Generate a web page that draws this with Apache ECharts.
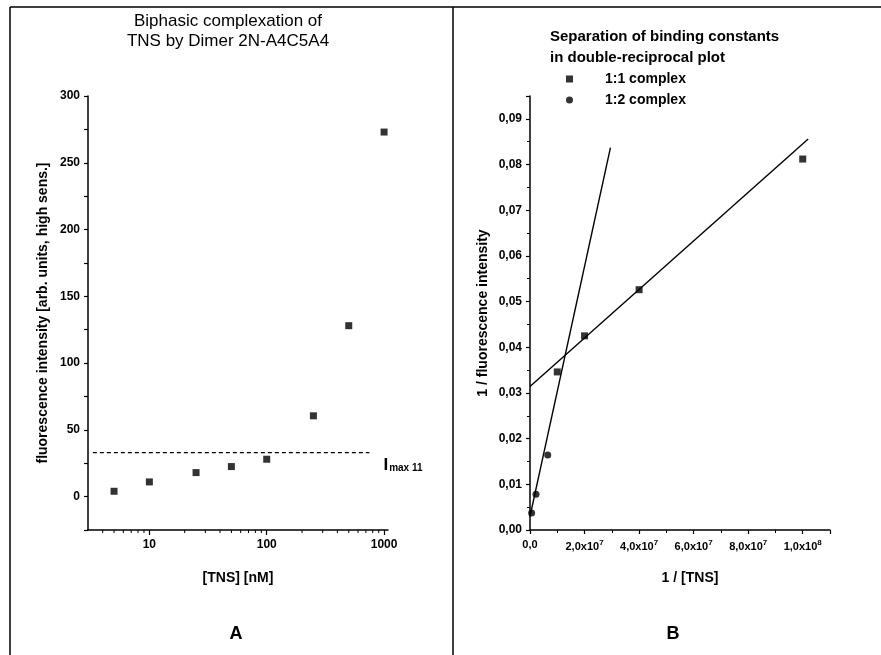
<!DOCTYPE html>
<html><head><meta charset="utf-8">
<script src="https://cdn.jsdelivr.net/npm/echarts@6/dist/echarts.min.js"></script>
<style>html,body{margin:0;padding:0;background:#fff}#c{width:881px;height:655px}</style>
</head><body><div id="c"></div>
<script>
// ---- Panel A data ----
const tnsConc = [5, 10, 25, 50, 100, 250, 500, 1000];           // nM
const fluorIntensity = [4, 11, 18, 22.5, 28, 60.5, 128, 273];
const imaxX = [3.3, 750];
const imaxY = [33, 33];
const logMinorTicks = [4,5,6,7,8,9,20,30,40,50,60,70,80,90,200,300,400,500,600,700,800,900];
const yMinA = -25;
// ---- Panel B data ----
const recip11X = [1.0e7, 2.0e7, 4.0e7, 1.0e8];
const recip11Y = [0.0346, 0.0425, 0.0526, 0.0812];
const recip12X = [0.6e6, 2.2e6, 6.5e6];
const recip12Y = [0.0037, 0.0078, 0.0164];
const fit11X = [0, 1.02e8];
const fit11Y = [0.0314, 0.0856];
const fit12X = [0, 2.95e7];
const fit12Y = [0.003, 0.0837];

const FF = 'Liberation Sans';
const zip = (a, b) => a.map((v, i) => [v, b[i]]);
const axisCommon = {
  axisLine: {onZero: false, lineStyle: {color: '#000', width: 1.5}},
  axisTick: {lineStyle: {color: '#000', width: 1.2}, length: 4},
  axisLabel: {color: '#000', fontFamily: FF, fontWeight: 'bold', fontSize: 12},
  splitLine: {show: false},
  nameTextStyle: {color: '#000', fontFamily: FF, fontWeight: 'bold', fontSize: 14}
};

const chart = echarts.init(document.getElementById('c'), null, {renderer: 'canvas'});
chart.setOption({
  backgroundColor: '#fff',
  animation: false,
  textStyle: {fontFamily: FF},
  grid: [
    {left: 88, top: 96, width: 300, height: 434},
    {left: 530, top: 96, width: 300, height: 434}
  ],
  xAxis: [
    Object.assign({}, axisCommon, {
      gridIndex: 0, type: 'log', logBase: 10, min: 3, max: 1080,
      name: '[TNS] [nM]', nameLocation: 'middle', nameGap: 41,
      axisTick: {lineStyle: {color: '#000', width: 1.2}, length: 5},
      axisLabel: Object.assign({}, axisCommon.axisLabel, {showMinLabel: false, showMaxLabel: false, margin: 9,
        formatter: v => String(Math.round(v))})
    }),
    Object.assign({}, axisCommon, {
      gridIndex: 1, type: 'value', min: 0, max: 1.1e8, interval: 2e7,
      name: '1 / [TNS]', nameLocation: 'middle', nameGap: 41,
      nameTextStyle: Object.assign({}, axisCommon.nameTextStyle, {padding: [0, 0, 0, 20]}),
      minorTick: {show: true, splitNumber: 2, length: 3, lineStyle: {color: '#000', width: 1}},
      axisLabel: Object.assign({}, axisCommon.axisLabel, {
        showMaxLabel: false, margin: 9, fontSize: 11,
        formatter: v => {
          if (v === 0) return '0,0';
          const e = Math.floor(Math.log10(v) + 1e-9);
          const m = v / Math.pow(10, e);
          return m.toFixed(1).replace('.', ',') + 'x10{sup|' + e + '}';
        },
        rich: {sup: {fontSize: 8, fontWeight: 'bold', fontFamily: FF, color: '#000', verticalAlign: 'top', padding: [0, 0, 7, 0]}}
      })
    })
  ],
  yAxis: [
    Object.assign({}, axisCommon, {
      gridIndex: 0, type: 'value', min: yMinA, max: 300, interval: 25,
      name: 'fluorescence intensity [arb. units, high sens.]', nameLocation: 'middle', nameGap: 38,
      axisLabel: Object.assign({}, axisCommon.axisLabel, {formatter: v => (v % 50 === 0 ? String(v) : ''), margin: 8})
    }),
    Object.assign({}, axisCommon, {
      gridIndex: 1, type: 'value', min: 0, max: 0.095, interval: 0.01,
      name: '1 / fluorescence intensity', nameLocation: 'middle', nameGap: 40,
      minorTick: {show: true, splitNumber: 2, length: 3, lineStyle: {color: '#000', width: 1}},
      axisLabel: Object.assign({}, axisCommon.axisLabel, {showMaxLabel: false, margin: 8,
        formatter: v => v.toFixed(2).replace('.', ',')})
    })
  ],
  legend: {
    orient: 'vertical', left: 561, top: 67, itemWidth: 7, itemHeight: 7, itemGap: 7,
    data: ['1:1 complex', '1:2 complex'],
    textStyle: {color: '#000', fontFamily: FF, fontWeight: 'bold', fontSize: 14, padding: [0, 0, 0, 27]}
  },
  series: [
    {type: 'scatter', xAxisIndex: 0, yAxisIndex: 0, symbol: 'rect', symbolSize: 7,
     itemStyle: {color: '#000'}, data: zip(tnsConc, fluorIntensity)},
    {type: 'line', xAxisIndex: 0, yAxisIndex: 0, symbol: 'none', silent: true,
     lineStyle: {color: '#000', width: 1.2, type: [4, 3]}, data: zip(imaxX, imaxY),
     endLabel: {show: true, distance: 14, offset: [0, 11], formatter: '{i|I}{s|max 11}',
       rich: {i: {fontFamily: FF, fontWeight: 'bold', fontSize: 17, color: '#000', verticalAlign: 'bottom'},
              s: {fontFamily: FF, fontWeight: 'bold', fontSize: 10, color: '#000', padding: [10, 0, 0, 1]}}}},
    {type: 'custom', xAxisIndex: 0, yAxisIndex: 0, silent: true, clip: false,
     data: logMinorTicks.map(v => [v, yMinA]),
     renderItem: (params, api) => {
       const p = api.coord([api.value(0), api.value(1)]);
       return {type: 'line', shape: {x1: p[0], y1: p[1], x2: p[0], y2: p[1] + 3},
               style: {stroke: '#000', lineWidth: 1}};
     }},
    {name: '1:1 complex', type: 'scatter', xAxisIndex: 1, yAxisIndex: 1, symbol: 'rect', symbolSize: 7,
     itemStyle: {color: '#000'}, data: zip(recip11X, recip11Y), z: 3},
    {name: '1:2 complex', type: 'scatter', xAxisIndex: 1, yAxisIndex: 1, symbol: 'circle', symbolSize: 7,
     itemStyle: {color: '#000'}, data: zip(recip12X, recip12Y), z: 3},
    {type: 'line', xAxisIndex: 1, yAxisIndex: 1, symbol: 'none', silent: true,
     lineStyle: {color: '#000', width: 1.4}, data: zip(fit11X, fit11Y)},
    {type: 'line', xAxisIndex: 1, yAxisIndex: 1, symbol: 'none', silent: true,
     lineStyle: {color: '#000', width: 1.4}, data: zip(fit12X, fit12Y)}
  ],
  graphic: [
    {type: 'line', shape: {x1: 10, y1: 7, x2: 881, y2: 7}, style: {stroke: '#000', lineWidth: 1.5}},
    {type: 'line', shape: {x1: 10, y1: 7, x2: 10, y2: 655}, style: {stroke: '#000', lineWidth: 1.5}},
    {type: 'line', shape: {x1: 453, y1: 7, x2: 453, y2: 655}, style: {stroke: '#000', lineWidth: 1.5}},
    {type: 'text', x: 228, y: 31, style: {text: 'Biphasic complexation of\nTNS by Dimer 2N-A4C5A4',
      fontFamily: FF, fontSize: 17, fill: '#000', textAlign: 'center', textVerticalAlign: 'middle', lineHeight: 20}},
    {type: 'text', x: 550, y: 47, style: {text: 'Separation of binding constants\nin double-reciprocal plot',
      fontFamily: FF, fontSize: 15, fontWeight: 'bold', fill: '#000', textAlign: 'left', textVerticalAlign: 'middle', lineHeight: 21}},
    {type: 'text', x: 236, y: 634, style: {text: 'A', fontFamily: FF, fontSize: 18, fontWeight: 'bold', fill: '#000', textAlign: 'center', textVerticalAlign: 'middle'}},
    {type: 'text', x: 673, y: 634, style: {text: 'B', fontFamily: FF, fontSize: 18, fontWeight: 'bold', fill: '#000', textAlign: 'center', textVerticalAlign: 'middle'}}
  ]
});
</script></body></html>
